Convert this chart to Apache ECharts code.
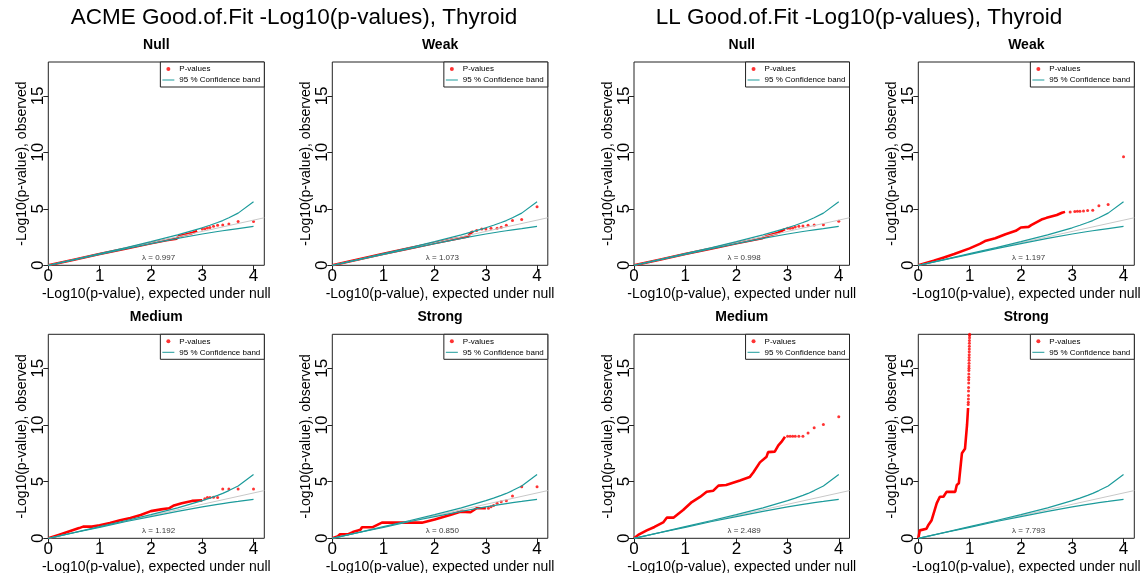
<!DOCTYPE html>
<html><head><meta charset="utf-8">
<script src="https://cdn.jsdelivr.net/npm/echarts@6/dist/echarts.min.js"></script>
<style>html,body{margin:0;padding:0;background:#fff}#c{width:1141px;height:573px}</style>
</head><body><div id="c"></div>
<script>
// ---------- texts ----------
const groupTitles = ['ACME Good.of.Fit -Log10(p-values), Thyroid', 'LL Good.of.Fit -Log10(p-values), Thyroid'];
const panelTitles = ['Null', 'Weak', 'Null', 'Weak', 'Medium', 'Strong', 'Medium', 'Strong'];
const lambdas = ['0.997', '1.073', '0.998', '1.197', '1.192', '0.850', '2.489', '7.793'];
const xName = '-Log10(p-value), expected under null';
const yName = '-Log10(p-value), observed';
const xTicks = [0, 1, 2, 3, 4];
const yTicks = [0, 5, 10, 15];
const lambdaPos = [2.15, 0.63];

// ---------- 95% confidence band (expected quantile, upper, lower) ----------
const bandX     = [0, 0.52, 1.0, 1.52, 2.0, 2.52, 3.0, 3.15, 3.3, 3.4, 3.52, 3.7, 4.0];
const bandUpper = [0, 0.53, 1.03, 1.57, 2.09, 2.69, 3.32, 3.55, 3.79, 3.96, 4.21, 4.62, 5.62];
const bandLower = [0, 0.51, 0.97, 1.48, 1.92, 2.38, 2.77, 2.88, 2.99, 3.06, 3.14, 3.25, 3.44];
const diagonal  = [[0, 0], [4.21, 4.21]];

// ---------- observed p-values: dense part (line) and sparse tail (dots) ----------
const acmeNullLine = [[0,0],[0.5,0.5],[1,1],[1.5,1.47],[2,1.95],[2.3,2.22],[2.5,2.36],[2.55,2.6],[2.7,2.75],[2.8,2.85],[2.9,3.05]];
const acmeNullDots = [[3.0,3.21],[3.05,3.24],[3.1,3.3],[3.15,3.35],[3.22,3.45],[3.3,3.54],[3.4,3.57],[3.52,3.66],[3.7,3.87],[4.0,3.87]];

const acmeWeakLine = [[0,0],[0.5,0.52],[1,1.03],[1.5,1.5],[2,1.98],[2.3,2.25],[2.5,2.42],[2.65,2.55],[2.7,2.85],[2.75,3.0]];
const acmeWeakDots = [[2.82,3.09],[2.92,3.21],[3.0,3.21],[3.1,3.27],[3.22,3.27],[3.3,3.36],[3.4,3.54],[3.52,3.96],[3.7,4.05],[4.0,5.18]];

const llNullLine = [[0,0],[0.5,0.5],[1,1],[1.5,1.47],[2,1.95],[2.4,2.3],[2.5,2.4],[2.6,2.6],[2.8,2.85],[2.95,3.2]];
const llNullDots = [[3.0,3.27],[3.05,3.28],[3.1,3.3],[3.15,3.39],[3.22,3.45],[3.3,3.48],[3.4,3.54],[3.52,3.57],[3.7,3.6],[4.0,3.9]];

const llWeakLine = [[0,0],[0.3,0.4],[0.5,0.7],[0.7,1.0],[1.0,1.5],[1.2,1.9],[1.3,2.15],[1.5,2.4],[1.7,2.75],[1.9,3.05],[2.0,3.35],[2.15,3.4],[2.2,3.55],[2.3,3.8],[2.4,4.05],[2.5,4.2],[2.7,4.45],[2.8,4.65],[2.86,4.73]];
const llWeakDots = [[2.96,4.73],[3.05,4.76],[3.1,4.79],[3.15,4.79],[3.22,4.8],[3.3,4.85],[3.4,4.88],[3.52,5.27],[3.7,5.38],[4.0,9.61]];

const acmeMediumLine = [[0,0],[0.2,0.3],[0.4,0.6],[0.6,0.9],[0.68,1.03],[0.85,1.03],[1.0,1.15],[1.2,1.35],[1.4,1.6],[1.6,1.8],[1.8,2.05],[2.0,2.4],[2.2,2.55],[2.35,2.65],[2.45,2.9],[2.6,3.1],[2.8,3.3],[3.0,3.35]];
const acmeMediumDots = [[3.05,3.5],[3.1,3.59],[3.15,3.6],[3.22,3.62],[3.3,3.59],[3.4,4.35],[3.52,4.35],[3.7,4.35],[4.0,4.35]];

const acmeStrongLine = [[0,0],[0.1,0.15],[0.15,0.35],[0.3,0.35],[0.4,0.55],[0.55,0.75],[0.58,0.97],[0.78,0.97],[0.97,1.38],[1.4,1.38],[1.75,1.38],[2.0,1.65],[2.3,2.05],[2.5,2.35],[2.7,2.3],[2.82,2.65],[3.0,2.65]];
const acmeStrongDots = [[3.05,2.65],[3.1,2.79],[3.15,2.9],[3.22,3.09],[3.3,3.23],[3.4,3.32],[3.52,3.73],[3.7,4.55],[4.0,4.55]];

const llMediumLine = [[0,0],[0.1,0.35],[0.25,0.7],[0.4,1.0],[0.57,1.4],[0.64,1.82],[0.77,1.82],[0.96,2.5],[1.13,3.2],[1.29,3.65],[1.42,4.1],[1.55,4.2],[1.65,4.65],[1.8,4.7],[2.07,5.1],[2.26,5.4],[2.33,5.8],[2.46,6.7],[2.59,7.2],[2.62,7.6],[2.75,7.65],[2.82,8.2],[2.88,8.5],[2.95,8.95]];
const llMediumDots = [[3.0,9.0],[3.05,9.0],[3.1,9.0],[3.15,9.0],[3.22,9.0],[3.3,9.0],[3.4,9.3],[3.52,9.75],[3.7,10.05],[4.0,10.73]];

const llStrongLine = [[0,0],[0.03,0.7],[0.06,0.8],[0.16,0.85],[0.2,1.2],[0.26,1.6],[0.36,3.1],[0.42,3.67],[0.49,3.67],[0.55,4.1],[0.72,4.1],[0.75,4.7],[0.79,4.85],[0.85,7.5],[0.91,7.9],[0.94,8.0],[0.95,10.0],[0.97,11.5]];
const llStrongDots = [[0.972,11.8],[0.975,12.0],[0.976,12.3],[0.978,12.6],[0.979,13.0],[0.98,13.3],[0.982,13.7],[0.983,14.0],[0.984,14.2],[0.985,14.5],[0.986,14.8],[0.987,15.0],[0.988,15.2],[0.989,15.45],[0.99,15.7],[0.991,15.95],[0.992,16.2],[0.993,16.45],[0.994,16.7],[0.995,16.95],[0.996,17.2],[0.997,17.45],[0.998,17.7],[0.999,17.9],[1.0,18.0]];

// ---------- layout ----------
const W = 1141;
const colLeft = [48.3, 332.3, 634, 918.3];
const colWidth = [216, 215.5, 215.5, 216];
const rowTop = [62, 334.3];
const rowHeight = [203.3, 204];
const FONT = '"Liberation Sans", Arial, Helvetica, sans-serif';
const RED = '#ff0000', TEAL = '#1c9b9b', GREY = '#c8c8c8', INK = '#222';

const panelData = [
  [acmeNullLine, acmeNullDots], [acmeWeakLine, acmeWeakDots], [llNullLine, llNullDots], [llWeakLine, llWeakDots],
  [acmeMediumLine, acmeMediumDots], [acmeStrongLine, acmeStrongDots], [llMediumLine, llMediumDots], [llStrongLine, llStrongDots]
];

const grid = [], xAxis = [], yAxis = [], series = [], legend = [];
const title = [
  { text: groupTitles[0], left: 294, top: 6, textAlign: 'center', padding: 0,
    textStyle: { fontSize: 22.5, fontWeight: 'normal', color: '#000', fontFamily: FONT } },
  { text: groupTitles[1], left: 859, top: 6, textAlign: 'center', padding: 0,
    textStyle: { fontSize: 22.5, fontWeight: 'normal', color: '#000', fontFamily: FONT } }
];

panelData.forEach(function (pd, i) {
  const r = i < 4 ? 0 : 1, c = i % 4;
  const left = colLeft[c], top = rowTop[r], width = colWidth[c], height = rowHeight[r];
  grid.push({ left: left, top: top, width: width, height: height, show: true,
    borderColor: INK, borderWidth: 1, backgroundColor: 'transparent', outerBoundsMode: 'none', containLabel: false });
  xAxis.push({ gridIndex: i, type: 'value', min: 0, max: 4.21,
    axisLine: { show: false }, splitLine: { show: false },
    axisTick: { show: true, length: 5, lineStyle: { color: INK }, customValues: xTicks },
    axisLabel: { customValues: xTicks, fontSize: 17, color: '#000', margin: 3, fontFamily: FONT },
    name: xName, nameLocation: 'middle', nameGap: 22,
    nameTextStyle: { fontSize: 14, color: '#000', fontFamily: FONT } });
  yAxis.push({ gridIndex: i, type: 'value', min: 0, max: 18,
    axisLine: { show: false }, splitLine: { show: false },
    axisTick: { show: true, length: 5, lineStyle: { color: INK }, customValues: yTicks },
    axisLabel: { customValues: yTicks, fontSize: 17, color: '#000', margin: 1, rotate: 90, fontFamily: FONT },
    name: yName, nameLocation: 'middle', nameGap: 19,
    nameTextStyle: { fontSize: 14, color: '#000', fontFamily: FONT } });
  title.push({ text: panelTitles[i], left: left + width / 2, top: top - 24, textAlign: 'center', padding: 0,
    textStyle: { fontSize: 14, fontWeight: 'bold', color: '#000', fontFamily: FONT } });

  const common = { xAxisIndex: i, yAxisIndex: i, silent: true, animation: false };
  series.push(Object.assign({ type: 'scatter', name: 'P-values', data: pd[1], symbolSize: 3,
    color: RED, itemStyle: { color: RED }, z: 2 }, common));
  series.push(Object.assign({ type: 'line', name: 'P-values', data: pd[0], showSymbol: false, symbol: 'none',
    color: RED, lineStyle: { color: RED, width: 2.6 }, z: 2 }, common));
  series.push(Object.assign({ type: 'line', name: 'diag', data: diagonal, showSymbol: false, symbol: 'none',
    lineStyle: { color: GREY, width: 1 }, z: 3 }, common));
  series.push(Object.assign({ type: 'line', name: '95 % Confidence band', data: bandX.map(function (x, k) { return [x, bandUpper[k]]; }),
    showSymbol: false, symbol: 'none', color: TEAL, lineStyle: { color: TEAL, width: 1.2 }, z: 4 }, common));
  series.push(Object.assign({ type: 'line', name: '95 % Confidence band', data: bandX.map(function (x, k) { return [x, bandLower[k]]; }),
    showSymbol: false, symbol: 'none', color: TEAL, lineStyle: { color: TEAL, width: 1.2 }, z: 4 }, common));
  series.push(Object.assign({ type: 'scatter', name: 'lambda', data: [lambdaPos], symbolSize: 0,
    label: { show: true, position: 'inside', formatter: 'λ = ' + lambdas[i], fontSize: 8, color: '#000', fontFamily: FONT }, z: 5 }, common));

  legend.push({ right: W - (left + width), top: top, orient: 'vertical', selectedMode: false,
    itemWidth: 12, itemHeight: 4, itemGap: 3, padding: [3, 4, 3, 2],
    borderColor: INK, borderWidth: 1, backgroundColor: '#fff',
    textStyle: { fontSize: 8, color: '#000', fontFamily: FONT },
    data: [{ name: 'P-values', icon: 'circle' }, { name: '95 % Confidence band', icon: 'path://M0,0H12V1H0Z' }] });
});

const chart = echarts.init(document.getElementById('c'), null, { renderer: 'canvas' });
chart.setOption({ animation: false, backgroundColor: '#fff', title: title, grid: grid, xAxis: xAxis, yAxis: yAxis,
  legend: legend, series: series, tooltip: { show: false } });
</script>
</body></html>
